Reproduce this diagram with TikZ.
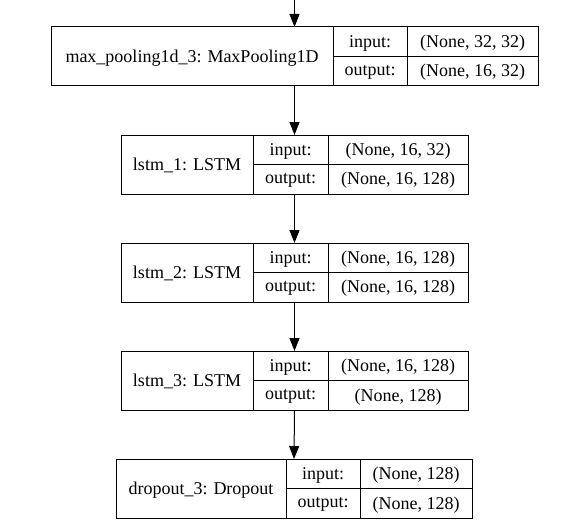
\documentclass[tikz,border=0pt]{standalone}
\usepackage{fontspec}
\setmainfont{Liberation Serif}
\usetikzlibrary{arrows.meta,fit}

\begin{document}
\begin{tikzpicture}[x=1pt,y=-1pt,
			every node/.style={font=\fontsize{18}{20}\selectfont},
			name cell/.style={draw,line width=1pt,inner sep=0pt,outer sep=0pt,text depth=1pt,minimum height=59pt,anchor=north west},
			port cell/.style={draw,line width=1pt,inner sep=0pt,outer sep=0pt,text depth=1pt,minimum height=29.5pt},
			layer box/.style={inner sep=0pt,outer sep=0pt,fit=#1},
			flow/.style={-{Triangle[length=13pt,width=10pt]},line width=1pt}
			]

			\useasboundingbox (0,0) rectangle (588,524);

			% max pooling
			\node[name cell,minimum width=282pt] (pool) at (51,27) {max\_pooling1d\_3: MaxPooling1D};
			\node[port cell,minimum width=74pt,anchor=north west] (pool in) at (pool.north east) {input:};
			\node[port cell,minimum width=131pt,anchor=north west] (pool in val) at (pool in.north east) {(None, 32, 32)};
			\node[port cell,minimum width=74pt,anchor=north] (pool out) at (pool in.south) {output:};
			\node[port cell,minimum width=131pt,anchor=north] (pool out val) at (pool in val.south) {(None, 16, 32)};
			\node[layer box={(pool)(pool out val)}] (pool box) {};

			% lstm 1
			\node[name cell,minimum width=132pt] (lstm1) at (121,135) {lstm\_1: LSTM};
			\node[port cell,minimum width=75pt,anchor=north west] (lstm1 in) at (lstm1.north east) {input:};
			\node[port cell,minimum width=140pt,anchor=north west] (lstm1 in val) at (lstm1 in.north east) {(None, 16, 32)};
			\node[port cell,minimum width=75pt,anchor=north] (lstm1 out) at (lstm1 in.south) {output:};
			\node[port cell,minimum width=140pt,anchor=north] (lstm1 out val) at (lstm1 in val.south) {(None, 16, 128)};
			\node[layer box={(lstm1)(lstm1 out val)}] (lstm1 box) {};

			% lstm 2
			\node[name cell,minimum width=132pt] (lstm2) at (121,243) {lstm\_2: LSTM};
			\node[port cell,minimum width=75pt,anchor=north west] (lstm2 in) at (lstm2.north east) {input:};
			\node[port cell,minimum width=140pt,anchor=north west] (lstm2 in val) at (lstm2 in.north east) {(None, 16, 128)};
			\node[port cell,minimum width=75pt,anchor=north] (lstm2 out) at (lstm2 in.south) {output:};
			\node[port cell,minimum width=140pt,anchor=north] (lstm2 out val) at (lstm2 in val.south) {(None, 16, 128)};
			\node[layer box={(lstm2)(lstm2 out val)}] (lstm2 box) {};

			% lstm 3
			\node[name cell,minimum width=132pt] (lstm3) at (121,351) {lstm\_3: LSTM};
			\node[port cell,minimum width=75pt,anchor=north west] (lstm3 in) at (lstm3.north east) {input:};
			\node[port cell,minimum width=140pt,anchor=north west] (lstm3 in val) at (lstm3 in.north east) {(None, 16, 128)};
			\node[port cell,minimum width=75pt,anchor=north] (lstm3 out) at (lstm3 in.south) {output:};
			\node[port cell,minimum width=140pt,anchor=north] (lstm3 out val) at (lstm3 in val.south) {(None, 128)};
			\node[layer box={(lstm3)(lstm3 out val)}] (lstm3 box) {};

			% dropout
			\node[name cell,minimum width=170pt] (drop) at (116,459) {dropout\_3: Dropout};
			\node[port cell,minimum width=74pt,anchor=north west] (drop in) at (drop.north east) {input:};
			\node[port cell,minimum width=112pt,anchor=north west] (drop in val) at (drop in.north east) {(None, 128)};
			\node[port cell,minimum width=74pt,anchor=north] (drop out) at (drop in.south) {output:};
			\node[port cell,minimum width=112pt,anchor=north] (drop out val) at (drop in val.south) {(None, 128)};
			\node[layer box={(drop)(drop out val)}] (drop box) {};

			\coordinate (entry) at (294.5,0);
			\draw[flow] (entry) -- (pool box.north);
			\draw[flow] (pool box.south) -- (lstm1 box.north);
			\draw[flow] (lstm1 box.south) -- (lstm2 box.north);
			\draw[flow] (lstm2 box.south) -- (lstm3 box.north);
			\draw[flow] (lstm3 box.south) -- (drop box.north);
		\end{tikzpicture}
\end{document}
